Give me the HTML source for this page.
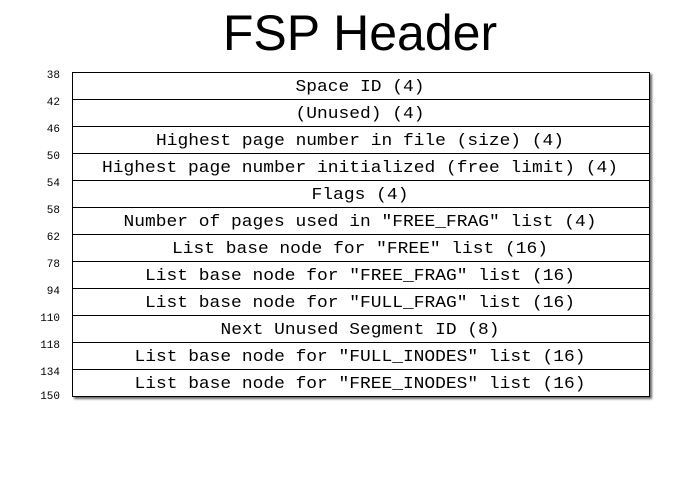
<!DOCTYPE html>
<html><head><meta charset="utf-8"><style>
html,body{margin:0;padding:0;background:#fff;}
</style></head><body>
<svg width="685" height="476" xmlns="http://www.w3.org/2000/svg">
<defs><filter id="s" x="-5%" y="-5%" width="110%" height="110%"><feDropShadow dx="2" dy="2" stdDeviation="1" flood-color="#000" flood-opacity="0.6"/></filter></defs>
<text x="360" y="50" font-family="Liberation Sans, sans-serif" font-size="50" text-anchor="middle" fill="#000">FSP Header</text>
<rect x="72.5" y="72.5" width="577" height="324" fill="#fff" stroke="#000" stroke-width="1" filter="url(#s)"/>
<g stroke="#000" stroke-width="1">
<line x1="72" x2="649" y1="99.5" y2="99.5"/><line x1="72" x2="649" y1="126.5" y2="126.5"/><line x1="72" x2="649" y1="153.5" y2="153.5"/><line x1="72" x2="649" y1="180.5" y2="180.5"/><line x1="72" x2="649" y1="207.5" y2="207.5"/><line x1="72" x2="649" y1="234.5" y2="234.5"/><line x1="72" x2="649" y1="261.5" y2="261.5"/><line x1="72" x2="649" y1="288.5" y2="288.5"/><line x1="72" x2="649" y1="315.5" y2="315.5"/><line x1="72" x2="649" y1="342.5" y2="342.5"/><line x1="72" x2="649" y1="369.5" y2="369.5"/>
</g>
<g font-family="Liberation Mono, monospace" font-size="17" text-anchor="middle" fill="#000">
<text x="360" y="91" textLength="129" lengthAdjust="spacingAndGlyphs">Space ID (4)</text>
<text x="360" y="118" textLength="129" lengthAdjust="spacingAndGlyphs">(Unused) (4)</text>
<text x="360" y="145" textLength="408" lengthAdjust="spacingAndGlyphs">Highest page number in file (size) (4)</text>
<text x="360" y="172" textLength="516" lengthAdjust="spacingAndGlyphs">Highest page number initialized (free limit) (4)</text>
<text x="360" y="199" textLength="97" lengthAdjust="spacingAndGlyphs">Flags (4)</text>
<text x="360" y="226" textLength="473" lengthAdjust="spacingAndGlyphs">Number of pages used in "FREE_FRAG" list (4)</text>
<text x="360" y="253" textLength="376" lengthAdjust="spacingAndGlyphs">List base node for "FREE" list (16)</text>
<text x="360" y="280" textLength="430" lengthAdjust="spacingAndGlyphs">List base node for "FREE_FRAG" list (16)</text>
<text x="360" y="307" textLength="430" lengthAdjust="spacingAndGlyphs">List base node for "FULL_FRAG" list (16)</text>
<text x="360" y="334" textLength="279" lengthAdjust="spacingAndGlyphs">Next Unused Segment ID (8)</text>
<text x="360" y="361" textLength="451" lengthAdjust="spacingAndGlyphs">List base node for "FULL_INODES" list (16)</text>
<text x="360" y="388" textLength="451" lengthAdjust="spacingAndGlyphs">List base node for "FREE_INODES" list (16)</text>
</g>
<g font-family="Liberation Mono, monospace" font-size="11" text-anchor="end" fill="#000">
<text x="60" y="78">38</text><text x="60" y="105">42</text><text x="60" y="132">46</text><text x="60" y="159">50</text><text x="60" y="186">54</text><text x="60" y="213">58</text><text x="60" y="240">62</text><text x="60" y="267">78</text><text x="60" y="294">94</text><text x="60" y="321">110</text><text x="60" y="348">118</text><text x="60" y="375">134</text><text x="60" y="399">150</text>
</g>
</svg>
</body></html>
